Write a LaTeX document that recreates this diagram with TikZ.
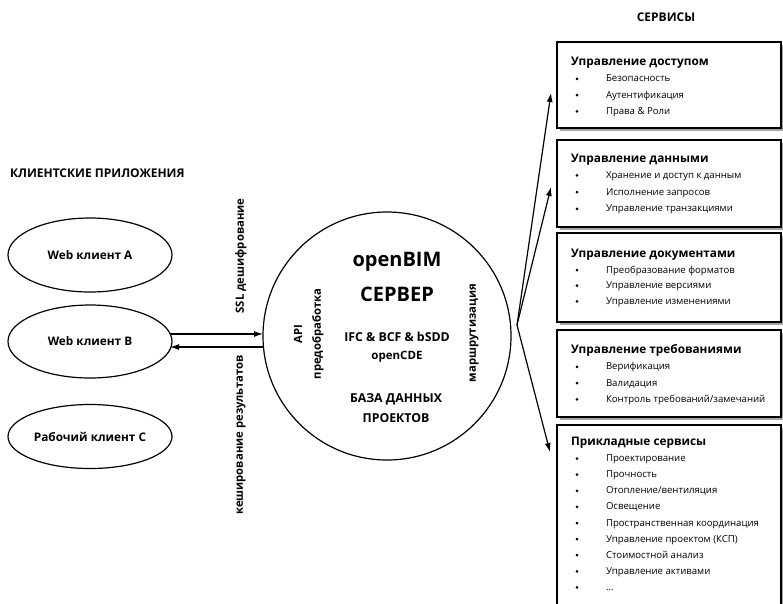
\documentclass[tikz,border=0pt]{standalone}
\usepackage{fontspec}
\setmainfont{Open Sans}
\usetikzlibrary{arrows.meta,shapes.geometric}
\begin{document}
\begin{tikzpicture}[x=1pt,y=-1pt,
  every node/.style={inner sep=0pt, outer sep=0pt},
  client/.style={draw, line width=1.2pt, ellipse, minimum width=164pt, font=\bfseries\fontsize{11.8}{13}\selectfont},
  head/.style={font=\bfseries\fontsize{12}{14}\selectfont},
  vlab/.style={rotate=90, font=\bfseries\fontsize{11.3}{13}\selectfont},
  inner/.style={font=\bfseries\fontsize{12.3}{14}\selectfont},
  big/.style={font=\bfseries\fontsize{20}{23}\selectfont},
  svcbox/.style={draw, line width=1.3pt, fill=white},
  shadowbox/.style={fill=black!35},
  svctitle/.style={anchor=base west, font=\bfseries\fontsize{11.8}{13}\selectfont},
  item/.style={anchor=base west, font=\fontsize{9.6}{11}\selectfont},
  bulletdot/.style={fill=black},
  arr/.style={line width=1.2pt, -{Latex[length=9pt,width=6pt]}}
]
\useasboundingbox (0,0) rectangle (783,603);

% headings
\node[head, anchor=west] (hclients) at (10,173) {КЛИЕНТСКИЕ ПРИЛОЖЕНИЯ};
\node[head] (hserv) at (666,17) {СЕРВИСЫ};

% clients
\node[client, minimum height=74pt] (ca) at (90,255) {Web клиент A};
\node[client, minimum height=73pt] (cb) at (90,341.5) {Web клиент B};
\node[client, minimum height=64pt] (cc) at (90,436.5) {Рабочий клиент C};

% server
\node[draw, circle, line width=1.2pt, minimum size=248pt] (srv) at (387,336) {};
\node[big] (t1) at (397,262) {openBIM};
\node[big] (t2) at (397,294) {СЕРВЕР};
\node[inner] (t3) at (397,337) {IFC \& BCF \& bSDD};
\node[inner, font=\bfseries\fontsize{11.5}{13}\selectfont] (t4) at (397,357) {openCDE};
\node[inner] (t5) at (396,399) {БАЗА ДАННЫХ};
\node[inner] (t6) at (396,418) {ПРОЕКТОВ};
\node[vlab] (api) at (298,334) {API};
\node[vlab] (pre) at (318,334) {предобработка};
\node[vlab] (route) at (474,333) {маршрутизация};

% labels on client link
\node[vlab] (ssl) at (241,256) {SSL дешифрование};
\node[vlab] (cache) at (241,435) {кеширование результатов};

% client <-> server arrows
\coordinate (bout) at (170,334);
\coordinate (sin) at (263,334);
\coordinate (sout) at (263,347);
\coordinate (bin) at (170,347);
\draw[arr] (bout) -- (sin);
\draw[arr] (sout) -- (bin);

% service boxes
\foreach \y/\h in {42/86,140/87,233/89,330/87,425/190}{
  \fill[shadowbox] (560,\y+3) rectangle (784,\y+\h+3);
  \draw[svcbox] (557,\y) rectangle (781,\y+\h);
}
\node[svctitle] (s1) at (571,65) {Управление доступом};
\foreach \t [count=\i] in {Безопасность,Аутентификация,Права \& Роли}{
  \fill[bulletdot] (577,62.5+\i*16.3) circle (1.5pt);
  \node[item] at (606,65.5+\i*16.3) {\t};
}
\node[svctitle] (s2) at (571,162) {Управление данными};
\foreach \t [count=\i] in {Хранение и доступ к данным,Исполнение запросов,Управление транзакциями}{
  \fill[bulletdot] (577,158.5+\i*16.8) circle (1.5pt);
  \node[item] at (606,161.5+\i*16.8) {\t};
}
\node[svctitle] (s3) at (571,257) {Управление документами};
\foreach \t [count=\i] in {Преобразование форматов,Управление версиями,Управление изменениями}{
  \fill[bulletdot] (577,254.5+\i*15.6) circle (1.5pt);
  \node[item] at (606,257.5+\i*15.6) {\t};
}
\node[svctitle] (s4) at (571,353) {Управление требованиями};
\foreach \t [count=\i] in {Верификация,Валидация,Контроль требований/замечаний}{
  \fill[bulletdot] (577,350.5+\i*16.3) circle (1.5pt);
  \node[item] at (606,353.5+\i*16.3) {\t};
}
\node[svctitle] (s5) at (571,445) {Прикладные сервисы};
\foreach \t [count=\i] in {Проектирование,Прочность,Отопление/вентиляция,Освещение,Пространственная координация,Управление проектом (КСП),Стоимостной анализ,Управление активами,\ldots}{
  \fill[bulletdot] (577,442.5+\i*16.1) circle (1.5pt);
  \node[item] at (606,445.5+\i*16.1) {\t};
}

% server -> services arrows
\coordinate (hub) at (517,325);
\coordinate (e1) at (551,93);
\coordinate (e2) at (551,187);
\coordinate (e3) at (550,452);
\draw[arr] (hub) -- (e1);
\draw[arr] (hub) -- (e2);
\draw[arr] (hub) -- (e3);
\end{tikzpicture}
\end{document}
